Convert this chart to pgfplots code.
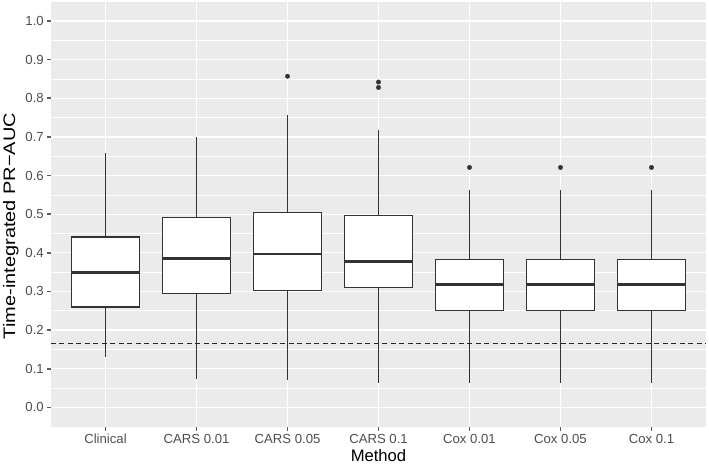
\documentclass[border=0pt]{standalone}
\usepackage{pgfplots}
\pgfplotsset{compat=1.18}
\usepackage{fontspec}
\setmainfont{Liberation Sans}
\definecolor{panelbg}{HTML}{EBEBEB}
\definecolor{g20}{HTML}{333333}
\definecolor{g30}{HTML}{4D4D4D}
\begin{document}
\begin{tikzpicture}
\begin{axis}[
  scale only axis, width=655.2bp, height=425bp,
  clip=false,
  xmin=0.4, xmax=7.6, ymin=-0.05, ymax=1.05,
  axis background/.style={fill=panelbg},
  axis line style={draw=none},
  xtick={1,2,3,4,5,6,7},
  xticklabels={Clinical, CARS 0.01, CARS 0.05, CARS 0.1, Cox 0.01, Cox 0.05, Cox 0.1},
  ytick={0,0.1,0.2,0.3,0.4,0.5,0.6,0.7,0.8,0.9,1.0},
  minor ytick={0.05,0.15,0.25,0.35,0.45,0.55,0.65,0.75,0.85,0.95},
  /pgf/number format/assume math mode=true,
  yticklabel style={/pgf/number format/fixed, /pgf/number format/fixed zerofill, /pgf/number format/precision=1},
  grid=both,
  major grid style={white, line width=1.3bp},
  minor grid style={white, line width=0.65bp},
  tick align=outside, xtick pos=bottom, ytick pos=left,
  major tick length=3.6bp, minor tick length=0pt,
  major tick style={draw=none},
  minor tick style={draw=none},
  ticklabel style={font=\fontsize{13.2}{14}\selectfont, text=g30},
  xlabel={Method},
  ylabel={\scalebox{1.2}[1]{Time-integrated PR−AUC}},
  label style={font=\fontsize{16.7}{18}\selectfont, text=black},
  xlabel style={at={(axis description cs:0.5,0)}, anchor=center, yshift=-28.5bp},
  ylabel style={at={(axis description cs:-0.0613,0.472)}, anchor=center},
  whisk/.style={g20, line width=1.4bp},
  bx/.style={draw=g20, fill=white, line width=1.4bp, line join=miter},
  med/.style={g20, line width=2.8bp},
  tk/.style={g20!80!white, line width=1.6bp, forget plot},
]
% y tick marks
\addplot[tk] coordinates {(0.358,0.0) (0.4,0.0)};
\addplot[tk] coordinates {(0.358,0.1) (0.4,0.1)};
\addplot[tk] coordinates {(0.358,0.2) (0.4,0.2)};
\addplot[tk] coordinates {(0.358,0.3) (0.4,0.3)};
\addplot[tk] coordinates {(0.358,0.4) (0.4,0.4)};
\addplot[tk] coordinates {(0.358,0.5) (0.4,0.5)};
\addplot[tk] coordinates {(0.358,0.6) (0.4,0.6)};
\addplot[tk] coordinates {(0.358,0.7) (0.4,0.7)};
\addplot[tk] coordinates {(0.358,0.8) (0.4,0.8)};
\addplot[tk] coordinates {(0.358,0.9) (0.4,0.9)};
\addplot[tk] coordinates {(0.358,1.0) (0.4,1.0)};
% x tick marks
\addplot[tk] coordinates {(1,-0.0604) (1,-0.05)};
\addplot[tk] coordinates {(2,-0.0604) (2,-0.05)};
\addplot[tk] coordinates {(3,-0.0604) (3,-0.05)};
\addplot[tk] coordinates {(4,-0.0604) (4,-0.05)};
\addplot[tk] coordinates {(5,-0.0604) (5,-0.05)};
\addplot[tk] coordinates {(6,-0.0604) (6,-0.05)};
\addplot[tk] coordinates {(7,-0.0604) (7,-0.05)};
% Clinical
\addplot[whisk] coordinates {(1,0.130) (1,0.659)};
\addplot[bx] coordinates {(0.625,0.260) (1.375,0.260) (1.375,0.441) (0.625,0.441)} -- cycle;
\addplot[med] coordinates {(0.625,0.349) (1.375,0.349)};
% CARS 0.01
\addplot[whisk] coordinates {(2,0.073) (2,0.700)};
\addplot[bx] coordinates {(1.625,0.294) (2.375,0.294) (2.375,0.491) (1.625,0.491)} -- cycle;
\addplot[med] coordinates {(1.625,0.385) (2.375,0.385)};
% CARS 0.05
\addplot[whisk] coordinates {(3,0.070) (3,0.758)};
\addplot[bx] coordinates {(2.625,0.303) (3.375,0.303) (3.375,0.504) (2.625,0.504)} -- cycle;
\addplot[med] coordinates {(2.625,0.397) (3.375,0.397)};
% CARS 0.1
\addplot[whisk] coordinates {(4,0.064) (4,0.719)};
\addplot[bx] coordinates {(3.625,0.311) (4.375,0.311) (4.375,0.497) (3.625,0.497)} -- cycle;
\addplot[med] coordinates {(3.625,0.378) (4.375,0.378)};
% Cox 0.01
\addplot[whisk] coordinates {(5,0.062) (5,0.563)};
\addplot[bx] coordinates {(4.625,0.251) (5.375,0.251) (5.375,0.383) (4.625,0.383)} -- cycle;
\addplot[med] coordinates {(4.625,0.318) (5.375,0.318)};
% Cox 0.05
\addplot[whisk] coordinates {(6,0.062) (6,0.563)};
\addplot[bx] coordinates {(5.625,0.251) (6.375,0.251) (6.375,0.383) (5.625,0.383)} -- cycle;
\addplot[med] coordinates {(5.625,0.318) (6.375,0.318)};
% Cox 0.1
\addplot[whisk] coordinates {(7,0.062) (7,0.563)};
\addplot[bx] coordinates {(6.625,0.251) (7.375,0.251) (7.375,0.383) (6.625,0.383)} -- cycle;
\addplot[med] coordinates {(6.625,0.318) (7.375,0.318)};
% outliers
\addplot[only marks, mark=*, mark size=2.2bp, mark options={fill=g20, draw=g20}]
  coordinates {(3,0.857) (4,0.842) (4,0.828) (5,0.621) (6,0.621) (7,0.621)};
% reference line
\addplot[black!85, line width=0.9bp, dash pattern=on 5bp off 3.5bp]
  coordinates {(0.4,0.165) (7.6,0.165)};
\end{axis}
\pgfresetboundingbox
\path ([xshift=-50.9bp,yshift=-40.3bp]current axis.south west) rectangle ([xshift=2.9bp,yshift=1.7bp]current axis.north east);
\end{tikzpicture}
\end{document}
